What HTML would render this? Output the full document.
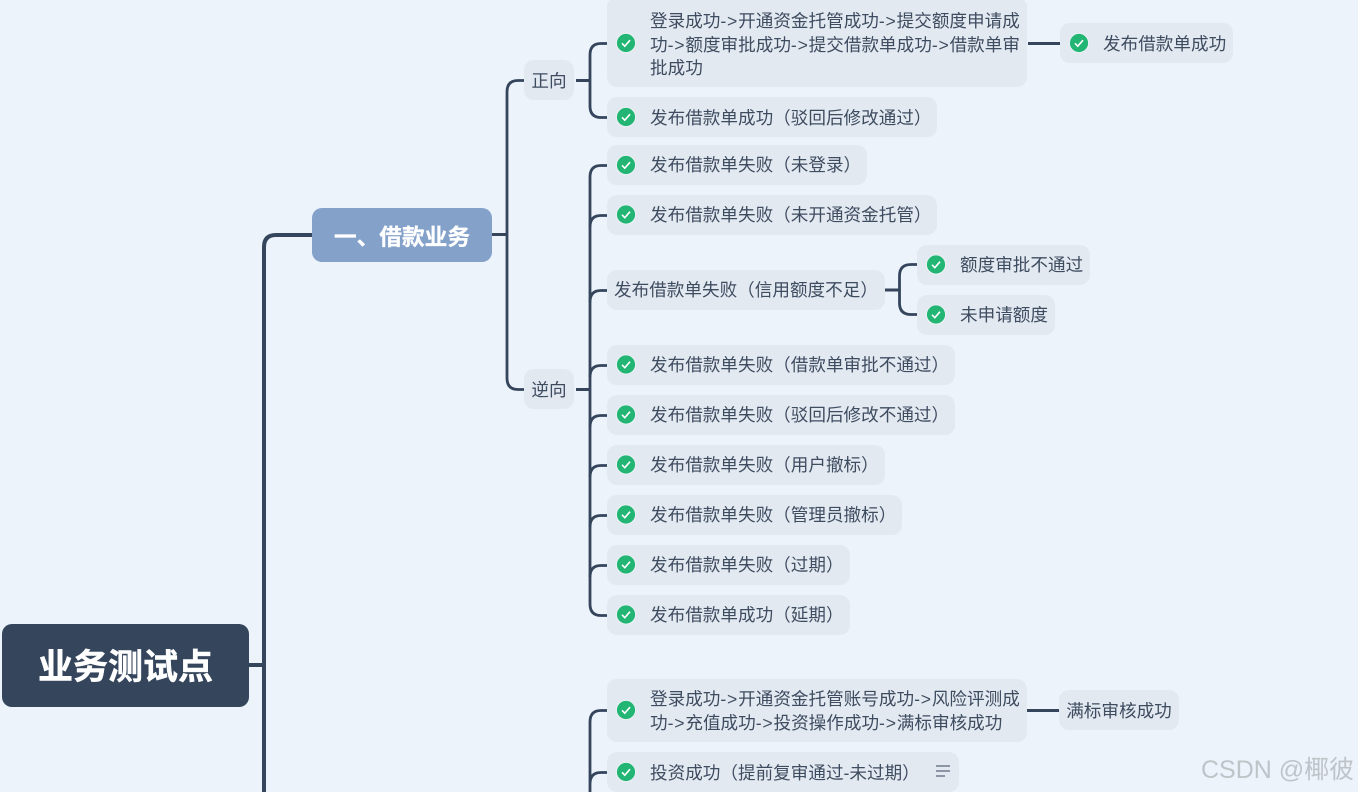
<!DOCTYPE html>
<html lang="zh">
<head>
<meta charset="utf-8">
<style>
html,body{margin:0;padding:0;width:1358px;height:792px;overflow:hidden;background:#ecf3fb}
body{position:relative;font-family:"Liberation Sans","Noto Sans CJK SC",sans-serif;color:#3e4c60}
.n{position:absolute;background:#e3e9f1;border-radius:10px;font-size:17.6px;line-height:24px;box-sizing:border-box}
.t{position:absolute;white-space:nowrap;font-size:17.6px;line-height:24px}
.t span{letter-spacing:.8px}
svg{position:absolute;left:0;top:0}
.wm{position:absolute;left:1201px;top:752px;font-size:25px;line-height:36px;color:#bfc4c9;white-space:nowrap;letter-spacing:0}
</style>
</head>
<body>
<svg width="1358" height="792" viewBox="0 0 1358 792" fill="none" stroke="#34455c" stroke-linecap="butt">
  <path d="M249 665H264" stroke-width="4"/>
  <path d="M264 792V247Q264 235 276 235H312" stroke-width="4"/>
  <path d="M492 234.500H507" stroke-width="3"/>
  <path d="M524 80.500H518Q507 80.500 507 92V378Q507 389.500 518 389.500H524" stroke-width="2.800"/>
  <path d="M576 80.500H590" stroke-width="3"/>
  <path d="M607 43.500H601Q590 43.500 590 55V106Q590 117.500 601 117.500H607" stroke-width="2.800"/>
  <path d="M576 389.500H590" stroke-width="3"/>
  <path d="M607 165.500H601Q590 165.500 590 177V604Q590 615.500 601 615.500H607" stroke-width="2.800"/>
  <path d="M607 215.500H601Q590 215.500 590 227M607 290.500H601Q590 290.500 590 302M607 365.500H601Q590 365.500 590 377M607 415.500H601Q590 415.500 590 427M607 465.500H601Q590 465.500 590 477M607 515.500H601Q590 515.500 590 527M607 565.500H601Q590 565.500 590 577" stroke-width="2.800"/>
  <path d="M885 290H900" stroke-width="3"/>
  <path d="M917 264.500H911Q899.500 264.500 899.500 276V303Q899.500 314.500 911 314.500H917" stroke-width="2.800"/>
  <path d="M1028 43.500H1060" stroke-width="3"/>
  <path d="M1027 710.500H1059" stroke-width="3"/>
  <path d="M607 710.500H601Q590 710.500 590 722V792M607 772.500H601Q590 772.500 590 784" stroke-width="2.800"/>
</svg>

<div class="n" style="left:2px;top:624px;width:247px;height:83px;background:#34455c;border-radius:10px;color:#fff;font-size:35px;font-weight:700;line-height:87px;text-align:center;-webkit-text-stroke:.5px #fff">业务测试点</div>
<div class="n" style="left:312px;top:208px;width:180px;height:54px;background:#84a1ca;border-radius:10px;color:#fff;font-size:22.700px;font-weight:700;line-height:58px;text-align:center;-webkit-text-stroke:.3px #fff">一、借款业务</div>

<div class="n" style="left:524px;top:60px;width:50px;height:40px;line-height:42px;text-align:center">正向</div>
<div class="n" style="left:524px;top:369px;width:50px;height:40px;line-height:42px;text-align:center">逆向</div>

<div class="n" style="left:607px;top:-3px;width:420px;height:90px"></div>
<div class="t" style="left:650px;top:9px">登录成功<span>-&gt;</span>开通资金托管成功<span>-&gt;</span>提交额度申请成</div>
<div class="t" style="left:650px;top:33px">功<span>-&gt;</span>额度审批成功<span>-&gt;</span>提交借款单成功<span>-&gt;</span>借款单审</div>
<div class="t" style="left:650px;top:56px">批成功</div>

<div class="n" style="left:1060px;top:23px;width:173px;height:40px"></div>
<div class="t" style="left:1103px;top:32px">发布借款单成功</div>

<div class="n" style="left:607px;top:97px;width:330px;height:40px"></div>
<div class="t" style="left:650px;top:106px">发布借款单成功（驳回后修改通过）</div>

<div class="n" style="left:607px;top:145px;width:260px;height:40px"></div>
<div class="t" style="left:650px;top:153px">发布借款单失败（未登录）</div>

<div class="n" style="left:607px;top:195px;width:330px;height:40px"></div>
<div class="t" style="left:650px;top:203px">发布借款单失败（未开通资金托管）</div>

<div class="n" style="left:607px;top:270px;width:278px;height:40px"></div>
<div class="t" style="left:614px;top:278px">发布借款单失败（信用额度不足）</div>

<div class="n" style="left:917px;top:245px;width:173px;height:40px"></div>
<div class="t" style="left:960px;top:253px">额度审批不通过</div>

<div class="n" style="left:917px;top:295px;width:138px;height:40px"></div>
<div class="t" style="left:960px;top:303px">未申请额度</div>

<div class="n" style="left:607px;top:345px;width:348px;height:40px"></div>
<div class="t" style="left:650px;top:353px">发布借款单失败（借款单审批不通过）</div>

<div class="n" style="left:607px;top:395px;width:348px;height:40px"></div>
<div class="t" style="left:650px;top:403px">发布借款单失败（驳回后修改不通过）</div>

<div class="n" style="left:607px;top:445px;width:278px;height:40px"></div>
<div class="t" style="left:650px;top:453px">发布借款单失败（用户撤标）</div>

<div class="n" style="left:607px;top:495px;width:295px;height:40px"></div>
<div class="t" style="left:650px;top:503px">发布借款单失败（管理员撤标）</div>

<div class="n" style="left:607px;top:545px;width:243px;height:40px"></div>
<div class="t" style="left:650px;top:553px">发布借款单失败（过期）</div>

<div class="n" style="left:607px;top:595px;width:243px;height:40px"></div>
<div class="t" style="left:650px;top:603px">发布借款单成功（延期）</div>

<div class="n" style="left:607px;top:679px;width:420px;height:63px"></div>
<div class="t" style="left:650px;top:687px">登录成功<span>-&gt;</span>开通资金托管账号成功<span>-&gt;</span>风险评测成</div>
<div class="t" style="left:650px;top:711px">功<span>-&gt;</span>充值成功<span>-&gt;</span>投资操作成功<span>-&gt;</span>满标审核成功</div>

<div class="n" style="left:1059px;top:690px;width:120px;height:40px;line-height:42px;text-align:center">满标审核成功</div>

<div class="n" style="left:607px;top:752px;width:352px;height:40px"></div>
<div class="t" style="left:650px;top:761px">投资成功（提前复审通过-未过期）</div>

<svg width="1358" height="792" viewBox="0 0 1358 792">
  <defs>
    <g id="c">
      <circle r="9.500" fill="#22b573" stroke="#eef4f6" stroke-width=".8"/>
      <path d="M-4 0.300L-1.200 3.200L4 -2.800" fill="none" stroke="#fff" stroke-width="1.600"/>
    </g>
  </defs>
  <use href="#c" x="626" y="43"/>
  <use href="#c" x="1079" y="43"/>
  <use href="#c" x="626" y="117"/>
  <use href="#c" x="626" y="165"/>
  <use href="#c" x="626" y="214.500"/>
  <use href="#c" x="936" y="264.500"/>
  <use href="#c" x="936" y="314.500"/>
  <use href="#c" x="626" y="364.500"/>
  <use href="#c" x="626" y="414.500"/>
  <use href="#c" x="626" y="464.500"/>
  <use href="#c" x="626" y="514.500"/>
  <use href="#c" x="626" y="564.500"/>
  <use href="#c" x="626" y="614.500"/>
  <use href="#c" x="626" y="710"/>
  <use href="#c" x="626" y="772"/>
  <path d="M936 766H950M936 771H950M936 776H945" stroke="#6f7a8a" stroke-width="1.500" fill="none"/>
</svg>

<div class="wm">CSDN @椰彼</div>
</body>
</html>
